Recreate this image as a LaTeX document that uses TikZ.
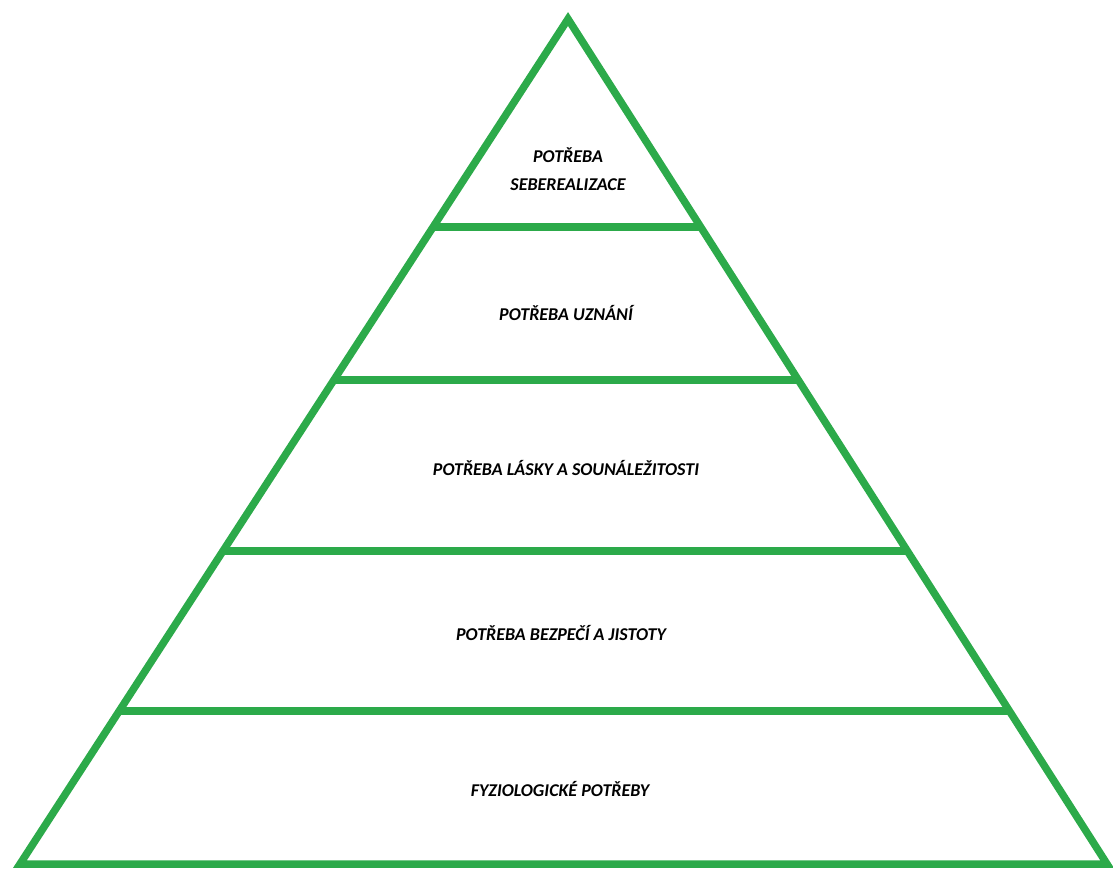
\documentclass[tikz,border=0pt]{standalone}
\usepackage{fontspec}
\setmainfont{Carlito}
\usetikzlibrary{calc}

\definecolor{pyrgreen}{RGB}{44,170,74}

\begin{document}
\begin{tikzpicture}[x=1pt, y=-1pt]

            \tikzstyle{edge} = [draw=pyrgreen, line width=7.5pt, line join=miter];
            \tikzstyle{levelnode} = [align=center, font=\fontsize{18}{28}\selectfont\bfseries\itshape, inner sep=0];

            \useasboundingbox (0,0) rectangle (1113,869);

            \coordinate (top) at (568,19);
            \coordinate (left) at (20,864);
            \coordinate (right) at (1107,864);

            % outline of the pyramid
            \draw [edge] (top) -- (left) -- (right) -- cycle;

            % dividing bars between the levels
            \foreach \y/\n in {227/1, 380/2, 551/3, 711/4} {
                \coordinate (l\n) at ($(top)!{(\y-19)/845}!(left)$);
                \coordinate (r\n) at ($(top)!{(\y-19)/845}!(right)$);
                \draw [edge] (l\n) -- (r\n);
            }

            \node[levelnode] (self) at (568,169) {POTŘEBA\\SEBEREALIZACE};
            \node[levelnode] (esteem) at (566,313) {POTŘEBA UZNÁNÍ};
            \node[levelnode] (love) at (566,468) {POTŘEBA LÁSKY A SOUNÁLEŽITOSTI};
            \node[levelnode] (safety) at (561,633) {POTŘEBA BEZPEČÍ A JISTOTY};
            \node[levelnode] (body) at (560,789) {FYZIOLOGICKÉ POTŘEBY};

        \end{tikzpicture}
\end{document}
